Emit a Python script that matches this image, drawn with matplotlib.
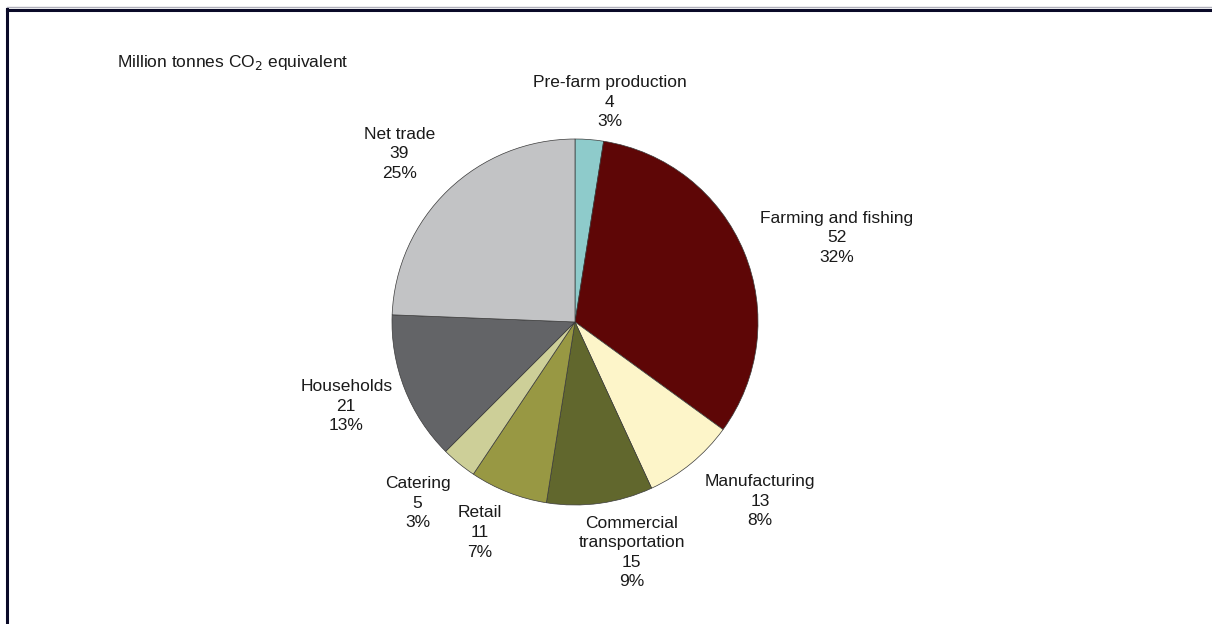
import matplotlib.pyplot as plt
from matplotlib.lines import Line2D

plt.rcParams['font.family'] = ['Liberation Sans', 'DejaVu Sans']

# Food chain emissions, million tonnes CO2 equivalent
sectors = ['Pre-farm production', 'Farming and fishing', 'Manufacturing',
           'Commercial\ntransportation', 'Retail', 'Catering',
           'Households', 'Net trade']
tonnes = [4, 52, 13, 15, 11, 5, 21, 39]
shares = ['3%', '32%', '8%', '9%', '7%', '3%', '13%', '25%']
colors = ['#8ecbcb', '#5e0606', '#fdf5c9', '#61672d', '#989843',
          '#cdcf98', '#636467', '#c2c3c5']

# label centres, in pie-radius units from the centre
label_xy = [(0.19, 1.20), (1.43, 0.46), (1.01, -0.98), (0.31, -1.26),
            (-0.52, -1.15), (-0.86, -0.99), (-1.25, -0.46), (-0.96, 0.92)]

W, H = 1212, 624
fig = plt.figure(figsize=(W / 100, H / 100), dpi=100)

cx, cy, r = 575, 322, 183
ax = fig.add_axes([(cx - r) / W, (H - cy - r) / H, 2 * r / W, 2 * r / H])
ax.pie(tonnes, colors=colors, startangle=90, counterclock=False, radius=1,
       wedgeprops=dict(edgecolor='#3a3a3a', linewidth=0.5))
ax.set_xlim(-1, 1)
ax.set_ylim(-1, 1)
ax.set_aspect('equal')
ax.axis('off')

for name, val, pct, (x, y) in zip(sectors, tonnes, shares, label_xy):
    ax.text(x, y, f'{name}\n{val}\n{pct}', ha='center', va='center',
            fontsize=12.5, color='#1a1a1a', linespacing=1.38, clip_on=False)

fig.text(117 / W, 1 - 63 / H, 'Million tonnes CO$_2$ equivalent',
         fontsize=12.5, color='#1a1a1a', ha='left', va='center')

# box frame lines along the top and left edges
fig.add_artist(Line2D([7 / W, 1], [1 - 7 / H, 1 - 7 / H], color='#b0b0bc',
                      linewidth=1, transform=fig.transFigure))
fig.add_artist(Line2D([7 / W, 1], [1 - 9.5 / H, 1 - 9.5 / H], color='#0a0a28',
                      linewidth=2.2, transform=fig.transFigure))
fig.add_artist(Line2D([7 / W, 7 / W], [0, 1 - 8.5 / H], color='#0a0a28',
                      linewidth=2.2, transform=fig.transFigure))

fig.savefig('out.png', dpi=100, facecolor='white')
